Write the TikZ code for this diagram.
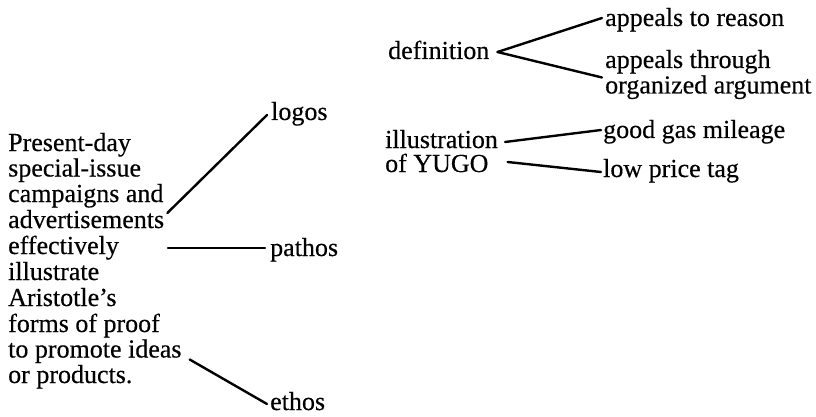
\documentclass[tikz,border=0pt]{standalone}
\usepackage{fontspec}
\setmainfont{Liberation Serif}[FakeBold=0.4]
\begin{document}
\begin{tikzpicture}[x=1pt,y=-1pt,
  txt/.style={inner sep=0pt,anchor=base west,font=\fontsize{26}{25.8}\selectfont},
  conn/.style={line width=2.4pt,line cap=round}]
\useasboundingbox (0,0) rectangle (816,417);
% left block
\node[txt] (l1) at (8,151) {Present-day};
\node[txt] (l2) at (8,176.5) {special-issue};
\node[txt] (l3) at (8,202) {campaigns and};
\node[txt] (l4) at (8,228) {advertisements};
\node[txt] (l5) at (8,254) {effectively};
\node[txt] (l6) at (8,280) {illustrate};
\node[txt] (l7) at (8,306) {Aristotle's};
\node[txt] (l8) at (8,332) {forms of proof};
\node[txt] (l9) at (8,357.5) {to promote ideas};
\node[txt] (l10) at (8,383) {or products.};
\node[txt] (logos) at (271,120) {logos};
\node[txt] (pathos) at (270,256) {pathos};
\node[txt] (ethos) at (270,410) {ethos};
\draw[conn] ([shift={(3,-15)}]l4.base east) -- ([shift={(-4,-5)}]logos.base west);
\draw[conn] ([shift={(-102,-8)}]pathos.base west) -- ([shift={(-5,-8)}]pathos.base west);
\draw[conn] ([shift={(8,2)}]l9.base east) -- ([shift={(-3,-6)}]ethos.base west);
% right part
\node[txt] (def) at (388,59) {definition};
\node[txt] (reason) at (605,26) {appeals to reason};
\node[txt] (through) at (605,68) {appeals through};
\node[txt] (org) at (605,93.5) {organized argument};
\draw[conn] ([shift={(8,-7)}]def.base east) -- ([shift={(-3,-8)}]reason.base west);
\draw[conn] ([shift={(8,-7)}]def.base east) -- ([shift={(-3,-16)}]org.base west);
\node[txt] (ill) at (385,148) {illustration};
\node[txt] (yugo) at (385,172) {of YUGO};
\node[txt] (gas) at (603,138) {good gas mileage};
\node[txt] (price) at (603,177) {low price tag};
\draw[conn] ([shift={(7,-6)}]ill.base east) -- ([shift={(-2,-8)}]gas.base west);
\draw[conn] ([shift={(19,-10)}]yugo.base east) -- ([shift={(-2,-5)}]price.base west);
\end{tikzpicture}
\end{document}
